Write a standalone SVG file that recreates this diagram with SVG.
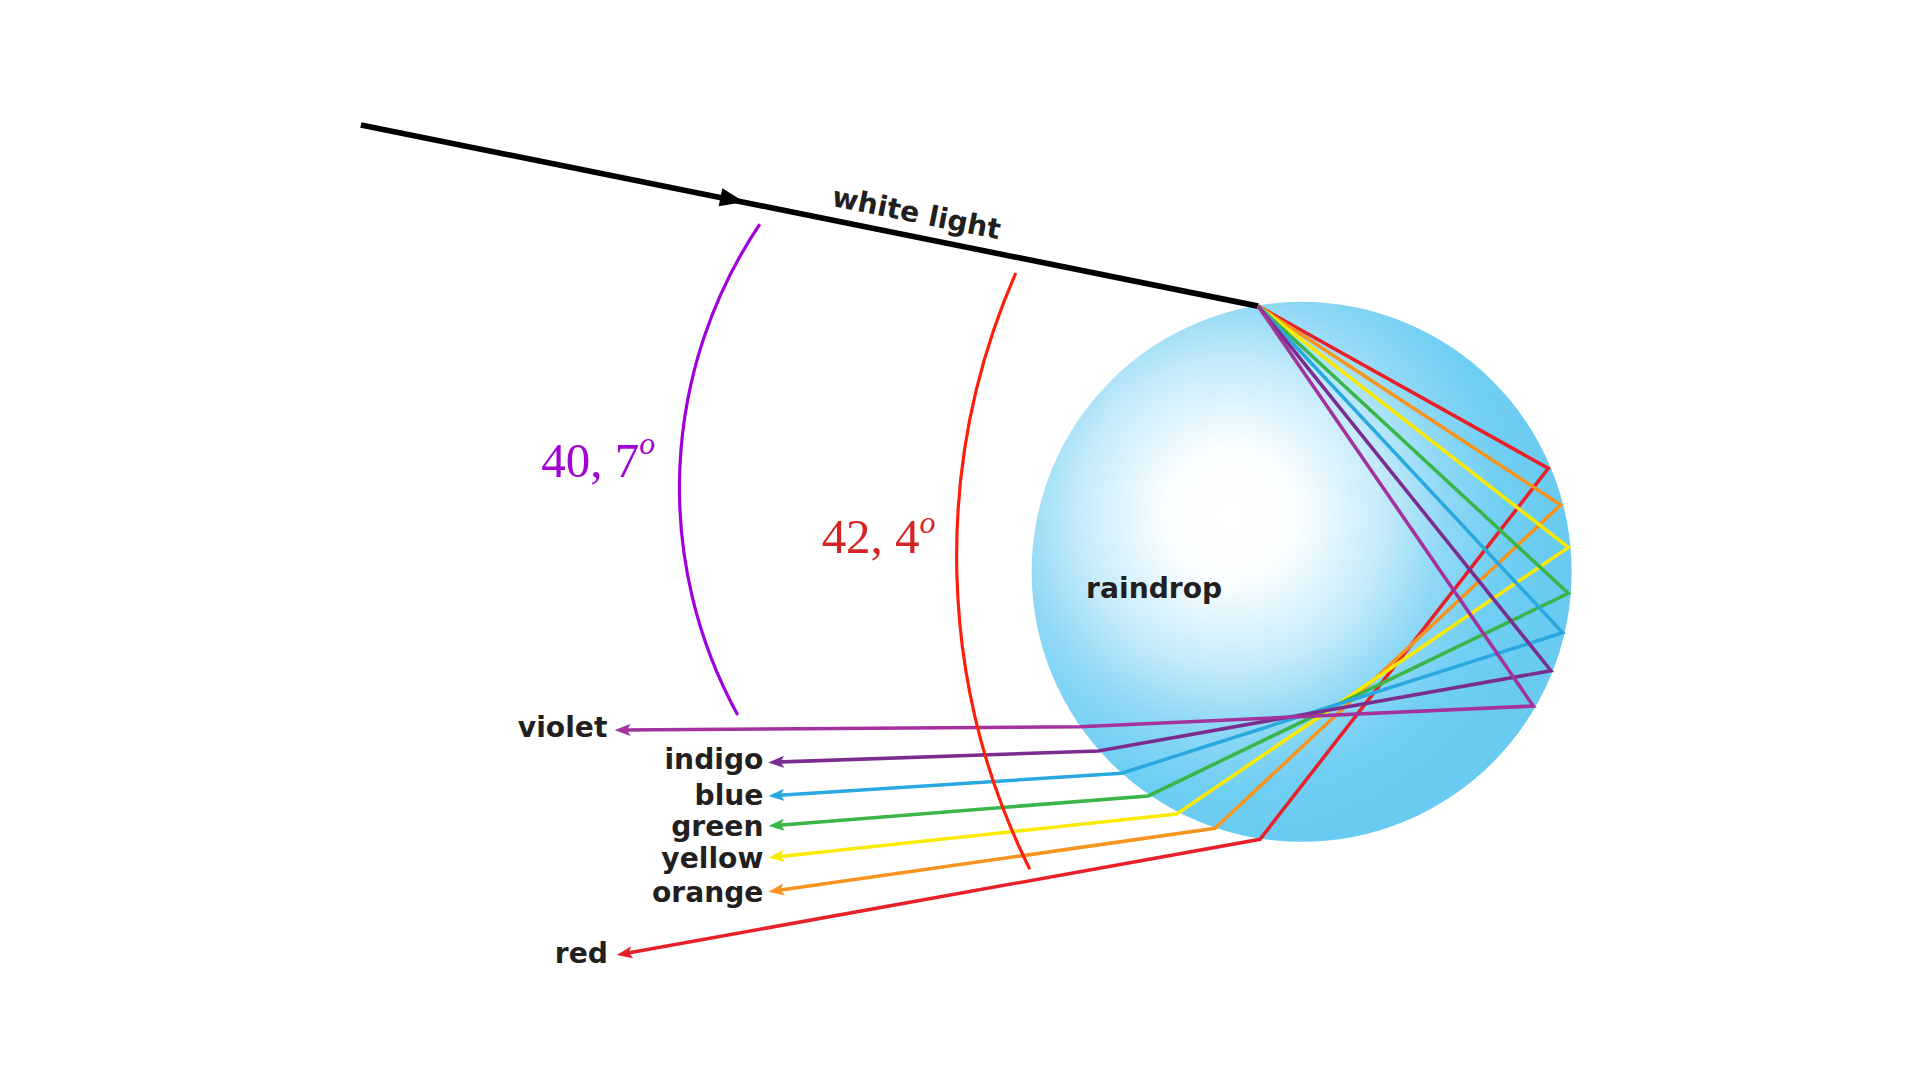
<svg xmlns="http://www.w3.org/2000/svg" width="1920" height="1080" viewBox="0 0 1920 1080">
<style>
.lbl{font-family:"DejaVu Sans","Liberation Sans",sans-serif;font-weight:bold;font-size:23px;fill:#231f20}
.ray{fill:none;stroke-width:2.9;stroke-linejoin:miter;stroke-miterlimit:10}
.ang{font-family:"Liberation Serif","DejaVu Serif",serif;font-size:40px}
.arc{fill:none;stroke-width:2.6}
</style>
<defs>
<radialGradient id="drop" gradientUnits="userSpaceOnUse" cx="1005" cy="420" r="265">
<stop offset="0" stop-color="#ffffff"/>
<stop offset="0.2" stop-color="#fbfeff"/>
<stop offset="0.47" stop-color="#c4ebfa"/>
<stop offset="0.66" stop-color="#8fd8f5"/>
<stop offset="0.85" stop-color="#6fcef3"/>
<stop offset="1" stop-color="#6acbf2"/>
</radialGradient>
<marker id="ah-red" viewBox="0 0 13 10" refX="7" refY="5" markerWidth="13" markerHeight="10" markerUnits="userSpaceOnUse" orient="auto"><path d="M0,0 L13,5 L0,10 L3,5 z" fill="#e8202a"/></marker>
<marker id="ah-orange" viewBox="0 0 13 10" refX="7" refY="5" markerWidth="13" markerHeight="10" markerUnits="userSpaceOnUse" orient="auto"><path d="M0,0 L13,5 L0,10 L3,5 z" fill="#f7941d"/></marker>
<marker id="ah-yellow" viewBox="0 0 13 10" refX="7" refY="5" markerWidth="13" markerHeight="10" markerUnits="userSpaceOnUse" orient="auto"><path d="M0,0 L13,5 L0,10 L3,5 z" fill="#f9ea00"/></marker>
<marker id="ah-green" viewBox="0 0 13 10" refX="7" refY="5" markerWidth="13" markerHeight="10" markerUnits="userSpaceOnUse" orient="auto"><path d="M0,0 L13,5 L0,10 L3,5 z" fill="#39b54a"/></marker>
<marker id="ah-blue" viewBox="0 0 13 10" refX="7" refY="5" markerWidth="13" markerHeight="10" markerUnits="userSpaceOnUse" orient="auto"><path d="M0,0 L13,5 L0,10 L3,5 z" fill="#2aa8e0"/></marker>
<marker id="ah-indigo" viewBox="0 0 13 10" refX="7" refY="5" markerWidth="13" markerHeight="10" markerUnits="userSpaceOnUse" orient="auto"><path d="M0,0 L13,5 L0,10 L3,5 z" fill="#7b2c8f"/></marker>
<marker id="ah-violet" viewBox="0 0 13 10" refX="7" refY="5" markerWidth="13" markerHeight="10" markerUnits="userSpaceOnUse" orient="auto"><path d="M0,0 L13,5 L0,10 L3,5 z" fill="#a3329c"/></marker>
</defs>
<rect width="1920" height="1080" fill="#ffffff"/>
<g transform="scale(1.22449)">
<g id="raindrop">
<circle cx="1063" cy="467" r="220.5" fill="url(#drop)"/>
<text class="lbl" x="887" y="488.5">raindrop</text>
</g>
<g id="connectors">
<g id="white-light">
<path d="M294.7,102 L1027.5,250" stroke="#000000" stroke-width="4.6" fill="none"/>
<polygon points="0,0 -20,-7.5 -20,7.5" fill="#000000" transform="translate(608,165) rotate(11.36)"/>
<text class="lbl" transform="translate(678.5,168) rotate(11.36)">white light</text>
</g>
<path class="ray" stroke="#e8202a" marker-end="url(#ah-red)" d="M1027.5,250 L1264.5,382.5 L1029,685.4 L509.5,778.9"/>
<path class="ray" stroke="#f7941d" marker-end="url(#ah-orange)" d="M1027.5,250 L1274.5,412.4 L992.2,676.5 L633.4,727.4"/>
<path class="ray" stroke="#f9ea00" marker-end="url(#ah-yellow)" d="M1027.5,250 L1280.8,447 L961,664.8 L633.5,699.8"/>
<path class="ray" stroke="#39b54a" marker-end="url(#ah-green)" d="M1027.5,250 L1280.8,484.5 L937.8,650 L633.5,674.1"/>
<path class="ray" stroke="#2aa8e0" marker-end="url(#ah-blue)" d="M1027.5,250 L1276.2,516.7 L916,631.5 L633.5,649.6"/>
<path class="ray" stroke="#7b2c8f" marker-end="url(#ah-indigo)" d="M1027.5,250 L1266.6,547.7 L897,613.3 L633.5,622.4"/>
<path class="ray" stroke="#a3329c" marker-end="url(#ah-violet)" d="M1027.5,250 L1252.2,576.6 L882,593.5 L508,596.2"/>
</g>
<g id="color-labels">
<g id="label-violet"><text class="lbl" x="496" y="601.5" text-anchor="end">violet</text></g>
<g id="label-indigo"><text class="lbl" x="623.5" y="628" text-anchor="end">indigo</text></g>
<g id="label-blue"><text class="lbl" x="623.5" y="657.5" text-anchor="end">blue</text></g>
<g id="label-green"><text class="lbl" x="623.5" y="683" text-anchor="end">green</text></g>
<g id="label-yellow"><text class="lbl" x="623.5" y="708.5" text-anchor="end">yellow</text></g>
<g id="label-orange"><text class="lbl" x="623.5" y="736.5" text-anchor="end">orange</text></g>
<g id="label-red"><text class="lbl" x="496.5" y="786.5" text-anchor="end">red</text></g>
</g>
<g id="angle-violet">
<path class="arc" stroke="#a000dc" d="M620.5,183 A386,386 0 0 0 602.5,584"/>
<text class="ang" x="442" y="389.5" fill="#a300d2">40, 7<tspan font-style="italic" font-size="26" dy="-19">o</tspan></text>
</g>
<g id="angle-red">
<path class="arc" stroke="#ff1e0a" d="M829.5,223 A577.8,577.8 0 0 0 841,710"/>
<text class="ang" x="671" y="452" fill="#d42424">42, 4<tspan font-style="italic" font-size="26" dy="-17">o</tspan></text>
</g>
</g>
</svg>
